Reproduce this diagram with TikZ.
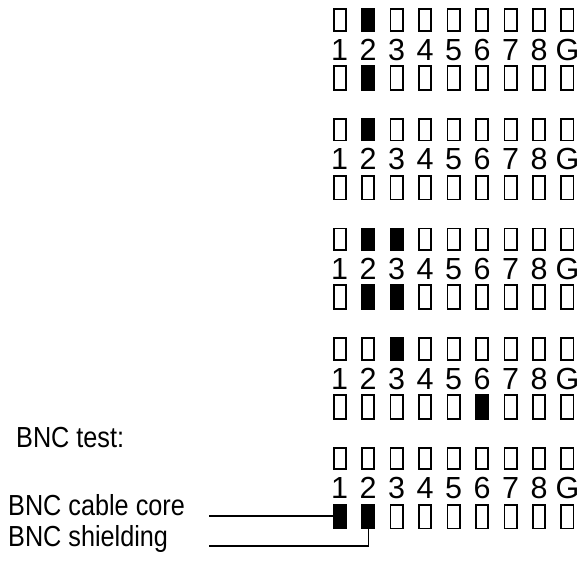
\documentclass[tikz,border=0pt]{standalone}
\usepackage{fontspec}
\setmainfont{Liberation Sans}
\newfontfamily\narrowfont[FakeStretch=0.87]{Liberation Sans}
\begin{document}
\begin{tikzpicture}[x=1pt,y=-1pt,
  pin/.style={draw,line width=1.8pt,inner sep=0pt,minimum width=12.2pt},
  up/.style={pin,minimum height=21.7pt},
  low/.style={pin,minimum height=23.8pt},
  num/.style={font=\fontsize{30.5}{36}\selectfont,inner sep=0pt,anchor=base},
  lab/.style={font=\narrowfont\fontsize{29}{35}\selectfont,inner sep=0pt,anchor=base west},
  wire/.style={line width=1.3pt}]
  \useasboundingbox (0,0) rectangle (587,564);
  % five test states, nine pins each
  \foreach \g in {1,...,5} {
    \foreach \lbl [count=\c] in {1,2,3,4,5,6,7,8,G} {
      \pgfmathsetmacro\xx{339.7+(\c-1)*28.47}
      \pgfmathsetmacro\yy{8.3+(\g-1)*109.6}
      \node[up] (t\g-\c) at (\xx,\yy+11.8) {};
      \node[num] (d\g-\c) at (\xx,\yy+52) {\lbl};
      \node[low] (b\g-\c) at (\xx,\yy+69.8) {};
    }
  }
  % lit pins
  \foreach \n in {t1-2,b1-2,t2-2,t3-2,t3-3,b3-2,b3-3,t4-3,b4-6,b5-1,b5-2}
    \fill (\n.north west) rectangle (\n.south east);
  \node[lab] (test) at (16,447) {BNC test:};
  \node[lab] (core) at (8,515) {BNC cable core};
  \node[lab] (shield) at (8,546) {BNC shielding};
  \coordinate (coreend) at (209,516);
  \coordinate (shieldend) at (209,546);
  \draw[wire] (coreend) -- (coreend -| b5-1.west);
  \draw[wire] (shieldend) -| (b5-2.south);
\end{tikzpicture}
\end{document}
